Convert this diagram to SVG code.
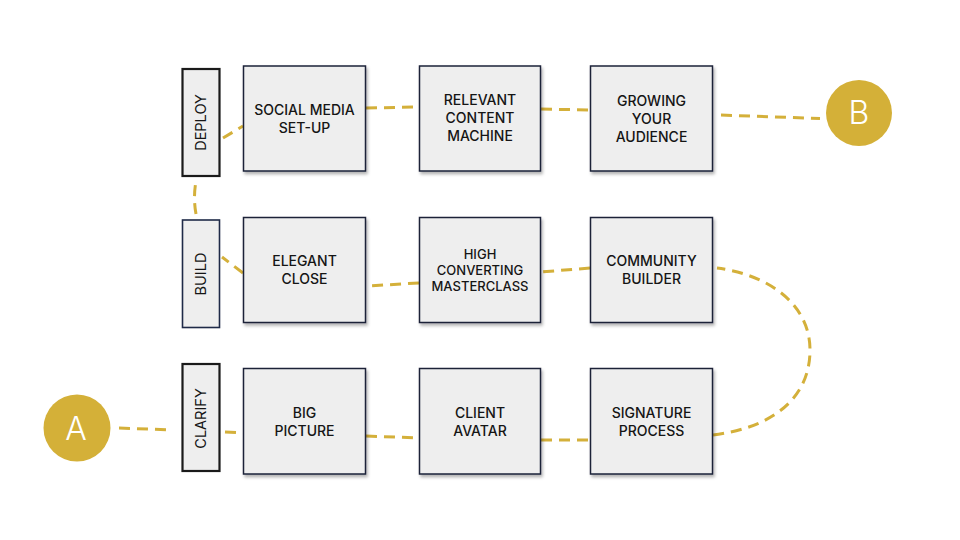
<svg xmlns="http://www.w3.org/2000/svg" width="960" height="540" viewBox="0 0 960 540">
  <defs>
    <filter id="sh" x="-10%" y="-10%" width="125%" height="125%">
      <feDropShadow dx="1.5" dy="2.5" stdDeviation="1.5" flood-color="#000" flood-opacity="0.3"/>
    </filter>
    <style>
      .box { fill: #eeeeee; stroke: #1b2238; stroke-width: 1.5; filter: url(#sh); }
      .lab { fill: #eeeeee; stroke: #1a1a1a; stroke-width: 2.2; }
      .labn { fill: #eeeeee; stroke: #1f2a48; stroke-width: 1.6; }
      .t { font-family: Inter, "Noto Sans", "Liberation Sans", sans-serif; font-size: 14px; font-weight: 500; fill: #151515; text-anchor: middle; }
      .ts { font-size: 13px; }
      .lt { font-family: Inter, "Noto Sans", "Liberation Sans", sans-serif; font-size: 14.5px; font-weight: 400; fill: #151515; text-anchor: middle; }
      .con path { fill: none; stroke: #d4b03a; stroke-width: 3; stroke-dasharray: 11 7; }
      .dot { fill: #d4b038; }
      .dl { font-family: Inter, Roboto, "DejaVu Sans", sans-serif; font-size: 32px; font-weight: 300; fill: #ffffff; text-anchor: middle; }
    </style>
  </defs>
  <rect width="960" height="540" fill="#ffffff"/>

  <g id="connectors" class="con">
    <path d="M 119 428 L 173 430"/>
    <path d="M 225 432 L 243 433"/>
    <path d="M 366 436 L 419 438"/>
    <path d="M 541 440 L 590 440"/>
    <path d="M 713 435 C 770 428, 810 400, 810 350 C 810 305, 770 275, 717 268"/>
    <path d="M 590 268 L 541 272"/>
    <path d="M 419 283 L 366 286"/>
    <path d="M 243 273 L 222 257"/>
    <path d="M 196 214 Q 193 198 196 181"/>
    <path d="M 223 138 L 243 126"/>
    <path d="M 366 108 L 419 107"/>
    <path d="M 541 109 L 588 110"/>
    <path d="M 721 115 L 820 118.5"/>
  </g>

  <g id="start-A">
    <circle class="dot" cx="77" cy="428" r="33.5"/>
    <text class="dl" x="76" y="440">A</text>
  </g>
  <g id="end-B">
    <circle class="dot" cx="859" cy="113" r="33"/>
    <text class="dl" x="859" y="124">B</text>
  </g>

  <g id="label-deploy">
    <rect class="lab" x="182.5" y="69" width="37" height="107"/>
    <text class="lt" transform="translate(206,122.5) rotate(-90)">DEPLOY</text>
  </g>
  <g id="label-build">
    <rect class="labn" x="182.5" y="220" width="37" height="107.5"/>
    <text class="lt" transform="translate(206,274) rotate(-90)">BUILD</text>
  </g>
  <g id="label-clarify">
    <rect class="lab" x="182.5" y="364" width="37" height="107"/>
    <text class="lt" transform="translate(206,418.5) rotate(-90)">CLARIFY</text>
  </g>

  <g id="social-media-setup">
    <rect class="box" x="243.5" y="66" width="122" height="105"/>
    <text class="t" x="304.5" y="114.5">SOCIAL MEDIA</text>
    <text class="t" x="304.5" y="132.5">SET-UP</text>
  </g>
  <g id="relevant-content-machine">
    <rect class="box" x="419.5" y="66" width="121" height="105"/>
    <text class="t" x="480" y="104.5">RELEVANT</text>
    <text class="t" x="480" y="122.5">CONTENT</text>
    <text class="t" x="480" y="140.5">MACHINE</text>
  </g>
  <g id="growing-your-audience">
    <rect class="box" x="590.5" y="66" width="122" height="105"/>
    <text class="t" x="651.5" y="105.5">GROWING</text>
    <text class="t" x="651.5" y="123.5">YOUR</text>
    <text class="t" x="651.5" y="141.5">AUDIENCE</text>
  </g>

  <g id="elegant-close">
    <rect class="box" x="243.5" y="217.5" width="122" height="105"/>
    <text class="t" x="304.5" y="266">ELEGANT</text>
    <text class="t" x="304.5" y="284">CLOSE</text>
  </g>
  <g id="high-converting-masterclass">
    <rect class="box" x="419.5" y="217.5" width="121" height="105"/>
    <text class="t ts" x="480" y="259">HIGH</text>
    <text class="t ts" x="480" y="275">CONVERTING</text>
    <text class="t ts" x="480" y="291">MASTERCLASS</text>
  </g>
  <g id="community-builder">
    <rect class="box" x="590.5" y="217.5" width="122" height="105"/>
    <text class="t" x="651.5" y="266">COMMUNITY</text>
    <text class="t" x="651.5" y="284">BUILDER</text>
  </g>

  <g id="big-picture">
    <rect class="box" x="243.5" y="368.5" width="122" height="105.5"/>
    <text class="t" x="304.5" y="417.5">BIG</text>
    <text class="t" x="304.5" y="435.5">PICTURE</text>
  </g>
  <g id="client-avatar">
    <rect class="box" x="419.5" y="368.5" width="121" height="105.5"/>
    <text class="t" x="480" y="417.5">CLIENT</text>
    <text class="t" x="480" y="435.5">AVATAR</text>
  </g>
  <g id="signature-process">
    <rect class="box" x="590.5" y="368.5" width="122" height="105.5"/>
    <text class="t" x="651.5" y="417.5">SIGNATURE</text>
    <text class="t" x="651.5" y="435.5">PROCESS</text>
  </g>
</svg>
